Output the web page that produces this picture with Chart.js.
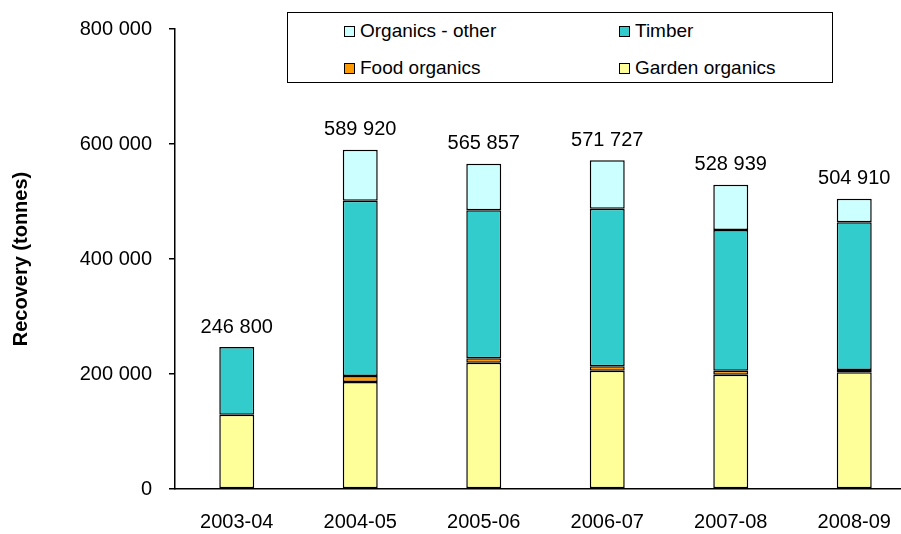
<!DOCTYPE html>
<html>
<head>
<meta charset="utf-8">
<script src="https://cdn.jsdelivr.net/npm/chart.js@4.4.1/dist/chart.umd.min.js"></script>
<style>
  body{margin:0;overflow:hidden;background:#fff;font-family:"Liberation Sans",Arial,sans-serif;}
  #wrap{position:relative;width:916px;height:534px;}
  #legend{position:absolute;left:287px;top:12px;width:544px;height:69px;border:1.5px solid #000;background:#fff;}
  .item{position:absolute;display:flex;align-items:center;font-size:19px;color:#000;white-space:nowrap;}
  .box{width:9px;height:9px;border:1.5px solid #000;margin-right:5px;}
</style>
</head>
<body>
<div id="wrap">
  <canvas id="myChart"></canvas>
  <div id="legend"></div>
</div>
<script>
const years = ["2003-04","2004-05","2005-06","2006-07","2007-08","2008-09"];
const garden = [129000,186000,219700,205800,198800,203000];
const food = [0,10500,7600,7600,7000,4000];
const timber = [117800,305000,257400,274100,244600,256800];
const other = [0,88420,81157,84227,78539,41110];
const totals = [246800,589920,565857,571727,528939,504910];
const yTicks = [0,200000,400000,600000,800000];

const FONT = '"Liberation Sans", Arial, sans-serif';

function fmt(v){
    return v.toString().replace(/\B(?=(\d{3})+(?!\d))/g," ");
}

const totalLabels = {
    id:'totalLabels',
    afterDatasetsDraw(chart){
        const ctx = chart.ctx;
        const meta = chart.getDatasetMeta(chart.data.datasets.length-1);
        const yScale = chart.scales.y;
        ctx.save();
        ctx.font = '20px ' + FONT;
        ctx.fillStyle = '#000';
        ctx.textAlign = 'center';
        ctx.textBaseline = 'middle';
        totals.forEach((t,i)=>{
            const x = meta.data[i].x;
            const y = yScale.getPixelForValue(t);
            ctx.fillText(fmt(t), x, y-20);
        });
        ctx.restore();
    }
};

const mychart = document.getElementById('myChart').getContext('2d');
const result = new Chart(mychart,{
    type:'bar',
    data:{
        labels:years,
        datasets:[
            {label:'Garden organics',data:garden,backgroundColor:'#FFFF99'},
            {label:'Food organics',data:food,backgroundColor:'#FF9900'},
            {label:'Timber',data:timber,backgroundColor:'#33CCCC'},
            {label:'Organics - other',data:other,backgroundColor:'#CCFFFF'}
        ].map(d=>Object.assign(d,{borderColor:'#000',borderWidth:1.5,borderSkipped:false,
            categoryPercentage:1,barPercentage:0.283}))
    },
    options:{
        responsive:true,
        maintainAspectRatio:false,
        animation:false,
        layout:{padding:{top:29,right:0,bottom:0,left:0}},
        plugins:{legend:{display:false},tooltip:{enabled:false}},
        scales:{
            x:{
                stacked:true,
                grid:{display:false},
                border:{color:'#000',width:1.5},
                ticks:{color:'#000',padding:13,font:{size:20,family:FONT}},
                afterFit(scale){scale.height = 45;}
            },
            y:{
                stacked:true,
                min:0,max:800000,
                afterBuildTicks(scale){scale.ticks = yTicks.map(v=>({value:v}));},
                grid:{display:true,drawOnChartArea:false,drawTicks:true,tickLength:6,color:'#000',lineWidth:1.5},
                border:{color:'#000',width:1.5},
                ticks:{color:'#000',padding:17,callback:v=>fmt(v),font:{size:20,family:FONT}},
                title:{display:true,text:'Recovery (tonnes)',color:'#000',padding:{top:9,bottom:0},
                    font:{size:20,weight:'bold',family:FONT}},
                afterFit(scale){scale.width = 175;}
            }
        }
    },
    plugins:[totalLabels]
});

// legend, same order as the original (top series first)
const legendItems = [
    {ds:3,left:56,top:18},
    {ds:2,left:331,top:18},
    {ds:1,left:56,top:55},
    {ds:0,left:331,top:55}
];
const leg = document.querySelector('#legend');
legendItems.forEach(it=>{
    const d = result.data.datasets[it.ds];
    leg.innerHTML += `<div class="item" style="left:${it.left}px;top:${it.top-11}px;height:22px;">
        <span class="box" style="background:${d.backgroundColor}"></span>${d.label}</div>`;
});
</script>
</body>
</html>
